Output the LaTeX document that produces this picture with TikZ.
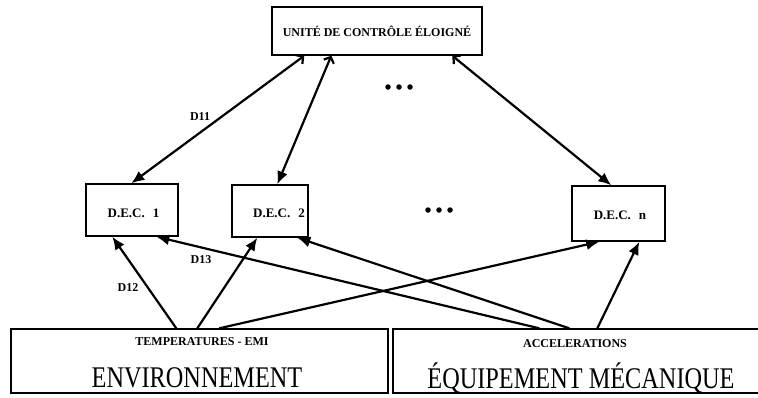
\documentclass[tikz,border=0pt]{standalone}
\usepackage{fontspec}
\setmainfont{Liberation Serif}
\newfontfamily\widefont[FakeStretch=0.81]{Liberation Serif}
\usetikzlibrary{arrows.meta,calc}

\tikzset{
  box/.style={draw, line width=1.4pt, inner sep=0pt},
  lbl/.style={font=\bfseries\fontsize{12}{14}\selectfont, inner sep=0pt, anchor=base},
  declbl/.style={font=\bfseries\fontsize{13}{15}\selectfont, inner sep=0pt, anchor=base},
  big/.style={font=\widefont\fontsize{30}{32}\selectfont, inner sep=0pt, anchor=base},
  link/.style={line width=2.2pt, -{Latex[length=13pt,width=11pt]}},
  dlink/.style={line width=2.2pt, {Straight Barb[length=5pt,width=11pt]}-{Latex[length=13pt,width=11pt]}},
  dot/.style={circle, fill, inner sep=0pt, minimum size=5.5pt},
}

\begin{document}
\begin{tikzpicture}[x=1pt,y=-1pt]
  \useasboundingbox (0,0) rectangle (758,397);

  % boxes
  \node[box, minimum width=210pt, minimum height=48pt] (top) at (377,31) {};
  \node[box, minimum width=92pt, minimum height=52pt] (dec1) at (132,210) {};
  \node[box, minimum width=76pt, minimum height=52pt] (dec2) at (270,211) {};
  \node[box, minimum width=93pt, minimum height=55pt] (decn) at (618.5,213.5) {};
  \node[box, minimum width=377pt, minimum height=64pt] (env) at (199.5,361) {};
  \node[box, minimum width=377pt, minimum height=64pt] (mec) at (581.5,361) {};

  % box texts
  \node[lbl] (ttl) at (377,36) {UNITÉ DE CONTRÔLE ÉLOIGNÉ};
  \node[declbl] (t1) at (133.5,217) {D.E.C.\hspace{8pt}1};
  \node[declbl] (t2) at (279,217) {D.E.C.\hspace{8pt}2};
  \node[declbl] (tn) at (620,219) {D.E.C.\hspace{8pt}n};
  \node[lbl] (tenv) at (202,345) {TEMPERATURES - EMI};
  \node[big] (benv) at (197,387) {ENVIRONNEMENT};
  \node[lbl] (tmec) at (575,347) {ACCELERATIONS};
  \node[big] (bmec) at (581,388) {ÉQUIPEMENT~MÉCANIQUE};

  % links between the remote unit and the D.E.C. units
  \draw[dlink] ($(top.south west)+(33,0)$) -- ($(dec1.north west)+(46,0)$);
  \draw[dlink] ($(top.south west)+(60,0)$) -- ($(dec2.north west)+(46,0)$);
  \draw[dlink] ($(top.south west)+(181,0)$) -- ($(decn.north west)+(40,0)$);

  % inputs from the environment
  \draw[link] ($(env.north west)+(166,0)$) -- ($(dec1.south west)+(27,0)$);
  \draw[link] ($(env.north west)+(187,0)$) -- ($(dec2.south west)+(26,0)$);
  \draw[link] ($(env.north west)+(209,0)$) -- ($(decn.south west)+(28,0)$);

  % inputs from the mechanical equipment
  \draw[link] ($(mec.north west)+(147,0)$) -- ($(dec1.south west)+(71,0)$);
  \draw[link] ($(mec.north west)+(177,0)$) -- ($(dec2.south west)+(66,0)$);
  \draw[link] ($(mec.north west)+(205,0)$) -- ($(decn.south west)+(68,0)$);

  % link labels
  \node[lbl, anchor=center] (d11) at (200,117) {D11};
  \node[lbl, anchor=center] (d12) at (128,288) {D12};
  \node[lbl, anchor=center] (d13) at (201,260) {D13};

  % ellipses
  \foreach \x in {388,399,410} \node[dot] at (\x,87) {};
  \foreach \x in {428,439,450} \node[dot] at (\x,210) {};
\end{tikzpicture}
\end{document}
